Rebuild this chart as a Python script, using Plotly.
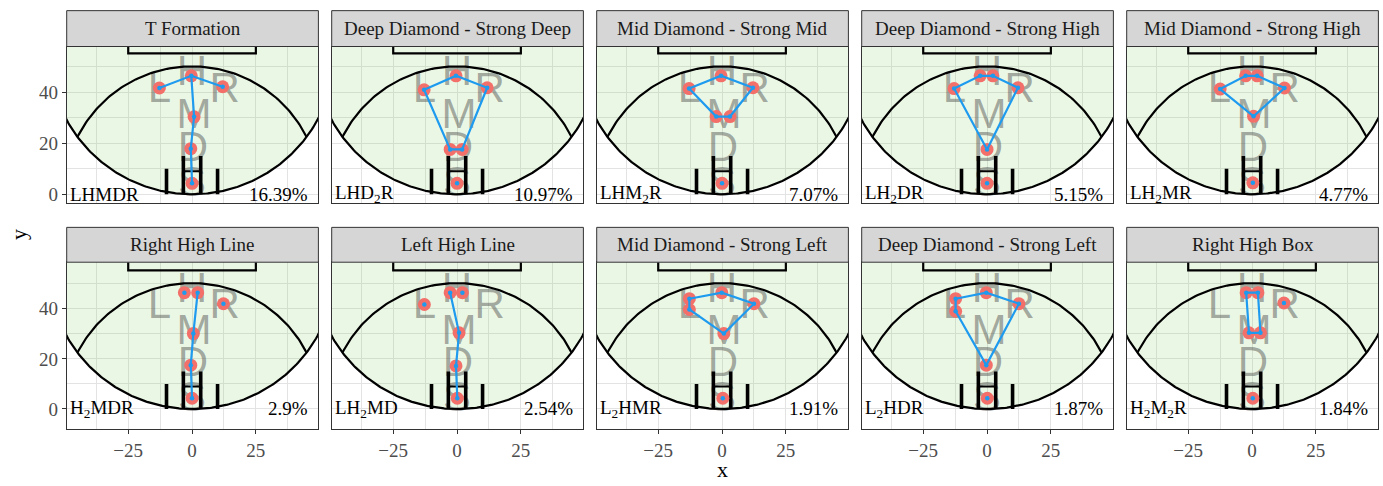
import numpy as np
import plotly.graph_objects as go

# ---------------- data ----------------
formation_names = [
    "T Formation", "Deep Diamond - Strong Deep", "Mid Diamond - Strong Mid",
    "Deep Diamond - Strong High", "Mid Diamond - Strong High",
    "Right High Line", "Left High Line", "Mid Diamond - Strong Left",
    "Deep Diamond - Strong Left", "Right High Box",
]
formation_codes = [
    "LHMDR", "LHD<sub>2</sub>R", "LHM<sub>2</sub>R", "LH<sub>2</sub>DR", "LH<sub>2</sub>MR",
    "H<sub>2</sub>MDR", "LH<sub>2</sub>MD", "L<sub>2</sub>HMR", "L<sub>2</sub>HDR",
    "H<sub>2</sub>M<sub>2</sub>R",
]
formation_pct = ["16.39%", "10.97%", "7.07%", "5.15%", "4.77%",
                 "2.9%", "2.54%", "1.91%", "1.87%", "1.84%"]

player_x = [
    [-12.8, -0.3, 12.0, 0.8, -0.5, 0.0],
    [-12.9, -0.4, 11.8, -2.7, 2.0, 0.0],
    [-12.9, -0.4, 12.1, -2.3, 3.1, 0.0],
    [-12.9, -2.7, 2.3, 12.1, 0.0, 0.0],
    [-12.5, -2.5, 2.0, 12.7, 0.6, 0.3],
    [-3.0, 2.2, 12.3, 0.5, -0.5, 0.0],
    [-12.8, -2.7, 2.1, 0.8, -0.4, 0.1],
    [-12.8, -12.8, -0.1, 12.5, 0.7, 0.3],
    [-12.3, -12.3, -0.3, 12.5, -0.3, 0.1],
    [-2.3, 2.3, 12.5, -1.2, 3.3, 0.3],
]
player_y = [
    [41.7, 46.5, 42.2, 30.4, 17.9, 4.3],
    [41.0, 46.5, 41.8, 17.6, 17.6, 4.3],
    [41.5, 46.5, 41.8, 30.5, 30.5, 4.3],
    [41.5, 46.5, 46.5, 41.8, 17.6, 4.3],
    [41.3, 46.5, 46.5, 41.7, 30.6, 4.5],
    [46.4, 46.4, 42.0, 30.1, 17.5, 4.3],
    [41.7, 46.4, 46.4, 30.4, 17.2, 4.3],
    [44.0, 39.7, 46.4, 42.0, 30.1, 4.3],
    [44.0, 39.0, 46.4, 42.0, 17.5, 4.3],
    [46.4, 46.4, 42.3, 30.4, 30.4, 4.3],
]
path_idx = [
    [0, 1, 2, 1, 3, 4, 5],
    [0, 1, 2, 4, 3, 0],
    [0, 1, 2, 4, 3, 0],
    [0, 1, 2, 3, 4, 0],
    [0, 1, 2, 3, 4, 0],
    [1, 3, 4, 5],
    [1, 3, 4, 5],
    [0, 2, 3, 4, 1, 0],
    [0, 2, 3, 4, 1, 0],
    [0, 1, 4, 3, 0],
]
letter_text = ["L", "H", "R", "M", "D", "S"]
letter_x = [-12.8, 0.0, 12.8, 0.8, 0.3, 0.0]
letter_y = [40.5, 47.0, 40.5, 30.0, 17.3, 3.5]

x_ticks = [-25, 0, 25]
y_ticks = [0, 20, 40]

# ---------------- layout geometry ----------------
W, H = 1383, 486
col_left = [66.7, 331.7, 596.7, 861.7, 1126.7]
col_w = 251.7
row_plot = [(46.7, 204.0), (263.3, 430.7)]
row_strip = [(10.7, 46.7), (228.3, 263.3)]
x_range = [-49.1, 49.5]
y_ranges = [[-3.5, 58.0], [-7.95, 58.56]]

SERIF = "Liberation Serif, Times New Roman, serif"
GREEN = "rgba(120,200,80,0.15)"
RED = "#F36F6A"
BLUE = "#1E9BEF"
GRID = "#E3E3E3"

# field geometry
R_UP = 50.2
C_LOW = 56.0
y_int = R_UP ** 2 / (2 * C_LOW)
t0 = np.arcsin(y_int / R_UP)
tt = np.linspace(t0, np.pi - t0, 120)
up_x = R_UP * np.cos(tt)
up_y = R_UP * np.sin(tt)
lx = np.linspace(-54, 54, 200)
ly = C_LOW - np.sqrt(C_LOW ** 2 - lx ** 2)

fig = go.Figure()
layout = dict(
    width=W, height=H, margin=dict(l=0, r=0, t=0, b=0),
    paper_bgcolor="white", plot_bgcolor="white", showlegend=False,
    font=dict(family=SERIF),
)
shapes = []
annotations = []

for i in range(10):
    r, c = divmod(i, 5)
    sfx = "" if i == 0 else str(i + 1)
    xa, ya = "x" + sfx, "y" + sfx
    x0p = col_left[c] / W
    x1p = (col_left[c] + col_w) / W
    ytop, ybot = row_plot[r]
    y0p = (H - ybot) / H
    y1p = (H - ytop) / H

    layout["xaxis" + sfx] = dict(
        domain=[x0p, x1p], range=x_range, anchor=ya,
        tickvals=x_ticks, showticklabels=(r == 1),
        ticks="outside" if r == 1 else "", ticklen=4, tickwidth=1, tickcolor="#333333",
        tickfont=dict(family=SERIF, size=19, color="#4D4D4D"),
        showgrid=True, gridcolor=GRID, gridwidth=1.4, zeroline=False,
        minor=dict(tickvals=[-37.5, -12.5, 12.5, 37.5], showgrid=True,
                   gridcolor=GRID, gridwidth=0.9, ticks=""),
        showline=True, mirror=True, linecolor="#333333", linewidth=1,
        fixedrange=True,
    )
    layout["yaxis" + sfx] = dict(
        domain=[y0p, y1p], range=y_ranges[r], anchor=xa,
        tickvals=y_ticks, showticklabels=(c == 0),
        ticks="outside" if c == 0 else "", ticklen=4, tickwidth=1, tickcolor="#333333",
        tickfont=dict(family=SERIF, size=19, color="#4D4D4D"),
        showgrid=True, gridcolor=GRID, gridwidth=1.4, zeroline=False,
        minor=dict(tickvals=[-10, 10, 30, 50], showgrid=True,
                   gridcolor=GRID, gridwidth=0.9, ticks=""),
        showline=True, mirror=True, linecolor="#333333", linewidth=1,
        fixedrange=True,
    )

    # green field fill (inside lower circle)
    fx = np.concatenate([lx, [54, -54]])
    fy = np.concatenate([ly, [75, 75]])
    fig.add_trace(go.Scatter(x=fx, y=fy, xaxis=xa, yaxis=ya, mode="lines",
                             fill="toself", fillcolor=GREEN, line=dict(width=0),
                             hoverinfo="skip"))
    # position letters
    fig.add_trace(go.Scatter(x=letter_x, y=letter_y, xaxis=xa, yaxis=ya, mode="text",
                             text=letter_text, textposition="middle center",
                             textfont=dict(family="Liberation Sans, Arial, sans-serif",
                                           size=42, color="rgba(70,70,70,0.45)"),
                             hoverinfo="skip"))
    # arcs
    fig.add_trace(go.Scatter(x=lx, y=ly, xaxis=xa, yaxis=ya, mode="lines",
                             line=dict(color="black", width=2.2), hoverinfo="skip"))
    fig.add_trace(go.Scatter(x=up_x, y=up_y, xaxis=xa, yaxis=ya, mode="lines",
                             line=dict(color="black", width=2.2), hoverinfo="skip"))
    # goal box
    fig.add_trace(go.Scatter(x=[-25, -25, 25, 25], y=[70, 55.3, 55.3, 70], xaxis=xa, yaxis=ya,
                             mode="lines", line=dict(color="black", width=2.2), hoverinfo="skip"))
    # posts
    fig.add_trace(go.Scatter(x=[-10, -10, None, 10, 10, None, -3.4, -3.4, None, 3.4, 3.4],
                             y=[0, 10, None, 0, 10, None, 0, 15, None, 0, 15],
                             xaxis=xa, yaxis=ya, mode="lines",
                             line=dict(color="black", width=3.6), hoverinfo="skip"))
    fig.add_trace(go.Scatter(x=[-3.4, 3.4], y=[9, 9], xaxis=xa, yaxis=ya, mode="lines",
                             line=dict(color="black", width=2), hoverinfo="skip"))
    # players
    px_, py_ = player_x[i], player_y[i]
    fig.add_trace(go.Scatter(x=px_, y=py_, xaxis=xa, yaxis=ya, mode="markers",
                             marker=dict(color=RED, size=13), hoverinfo="skip"))
    fig.add_trace(go.Scatter(x=[px_[k] for k in path_idx[i]], y=[py_[k] for k in path_idx[i]],
                             xaxis=xa, yaxis=ya, mode="lines",
                             line=dict(color=BLUE, width=2.2), hoverinfo="skip"))
    fig.add_trace(go.Scatter(x=px_, y=py_, xaxis=xa, yaxis=ya, mode="markers",
                             marker=dict(color=BLUE, size=4.5), hoverinfo="skip"))

    # corner labels
    annotations.append(dict(x=-48.6, y=0, xref=xa, yref=ya, text=formation_codes[i],
                            showarrow=False, xanchor="left", yanchor="middle",
                            font=dict(family=SERIF, size=19, color="black")))
    annotations.append(dict(x=46.3, y=0, xref=xa, yref=ya, text=formation_pct[i],
                            showarrow=False, xanchor="right", yanchor="middle",
                            font=dict(family=SERIF, size=19, color="black")))

    # strip
    st, sb = row_strip[r]
    shapes.append(dict(type="rect", xref="paper", yref="paper",
                       x0=x0p, x1=x1p, y0=(H - sb) / H, y1=(H - st) / H,
                       fillcolor="#D6D6D6", line=dict(color="#333333", width=1)))
    annotations.append(dict(x=(x0p + x1p) / 2, y=(H - (st + sb) / 2) / H, xref="paper", yref="paper",
                            text=formation_names[i], showarrow=False,
                            xanchor="center", yanchor="middle",
                            font=dict(family=SERIF, size=19, color="#1A1A1A")))

# axis titles
annotations.append(dict(x=722 / W, y=0.0, xref="paper", yref="paper", text="x",
                        showarrow=False, xanchor="center", yanchor="bottom",
                        font=dict(family=SERIF, size=22, color="black")))
annotations.append(dict(x=18 / W, y=(H - 236) / H, xref="paper", yref="paper", text="y",
                        showarrow=False, xanchor="center", yanchor="middle", textangle=-90,
                        font=dict(family=SERIF, size=22, color="black")))

layout["shapes"] = shapes
layout["annotations"] = annotations
fig.update_layout(**layout)
fig.write_html("out.html")
